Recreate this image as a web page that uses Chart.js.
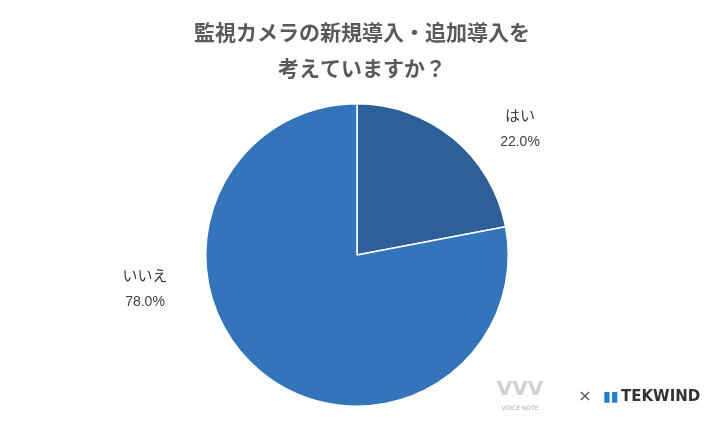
<!DOCTYPE html>
<html><head><meta charset="utf-8">
<script src="https://cdn.jsdelivr.net/npm/chart.js@4"></script>
<style>html,body{margin:0;background:#fff}#w{width:720px;height:432px}</style>
</head><body><div id="w"><canvas id="c"></canvas></div>
<script>
const titleLines = ["監視カメラの新規導入・追加導入を", "考えていますか？"];
const categories = ["はい", "いいえ"];
const values = [22.0, 78.0];
const colors = ["#2E5F98", "#3474BA"];
const labelOffsets = [[163, -127], [-212, 33]];

const deco = {
  id: 'deco',
  afterDraw(chart) {
    const ctx = chart.ctx;
    ctx.save();
    ctx.fillStyle = '#595959';
    ctx.textAlign = 'center'; ctx.textBaseline = 'middle';
    ctx.font = 'bold 21px "Noto Sans CJK JP"';
    titleLines.forEach((t, i) => ctx.fillText(t, 362, 32 + i * 36));
    const arc = chart.getDatasetMeta(0).data[0];
    categories.forEach((c, i) => {
      const x = arc.x + labelOffsets[i][0], y = arc.y + labelOffsets[i][1];
      ctx.fillStyle = '#404040';
      ctx.font = '15px "Noto Sans CJK JP"';
      ctx.fillText(c, x, y - 13);
      ctx.font = '14px "Liberation Sans"';
      ctx.fillText(values[i].toFixed(1) + '%', x, y + 14);
    });
    ctx.font = 'bold 20px "DejaVu Sans"'; ctx.fillStyle = '#d0d0d0';
    ctx.fillText('VVV', 520, 390);
    ctx.font = '6px "DejaVu Sans"'; ctx.fillStyle = '#aaa';
    ctx.fillText('VOICE NOTE', 520, 408);
    ctx.font = '16px "DejaVu Sans"'; ctx.fillStyle = '#555';
    ctx.fillText('×', 585, 397);
    ctx.fillStyle = '#1a7fd0'; ctx.font = 'bold 14px "DejaVu Sans"';
    ctx.fillText('▮▮', 611, 397);
    ctx.fillStyle = '#333'; ctx.textAlign = 'left';
    ctx.font = 'bold 15px "DejaVu Sans"';
    ctx.fillText('TEKWIND', 621, 397);
    ctx.restore();
  }
};

new Chart(document.getElementById('c'), {
  type: 'pie',
  data: { labels: categories, datasets: [{ data: values, backgroundColor: colors, borderColor: '#fff', borderWidth: 1.5 }] },
  options: {
    responsive: true, maintainAspectRatio: false, animation: false,
    layout: { padding: { top: 103, bottom: 25, left: 0, right: 6 } },
    plugins: { legend: { display: false }, tooltip: { enabled: false } }
  },
  plugins: [deco]
});
</script></body></html>
